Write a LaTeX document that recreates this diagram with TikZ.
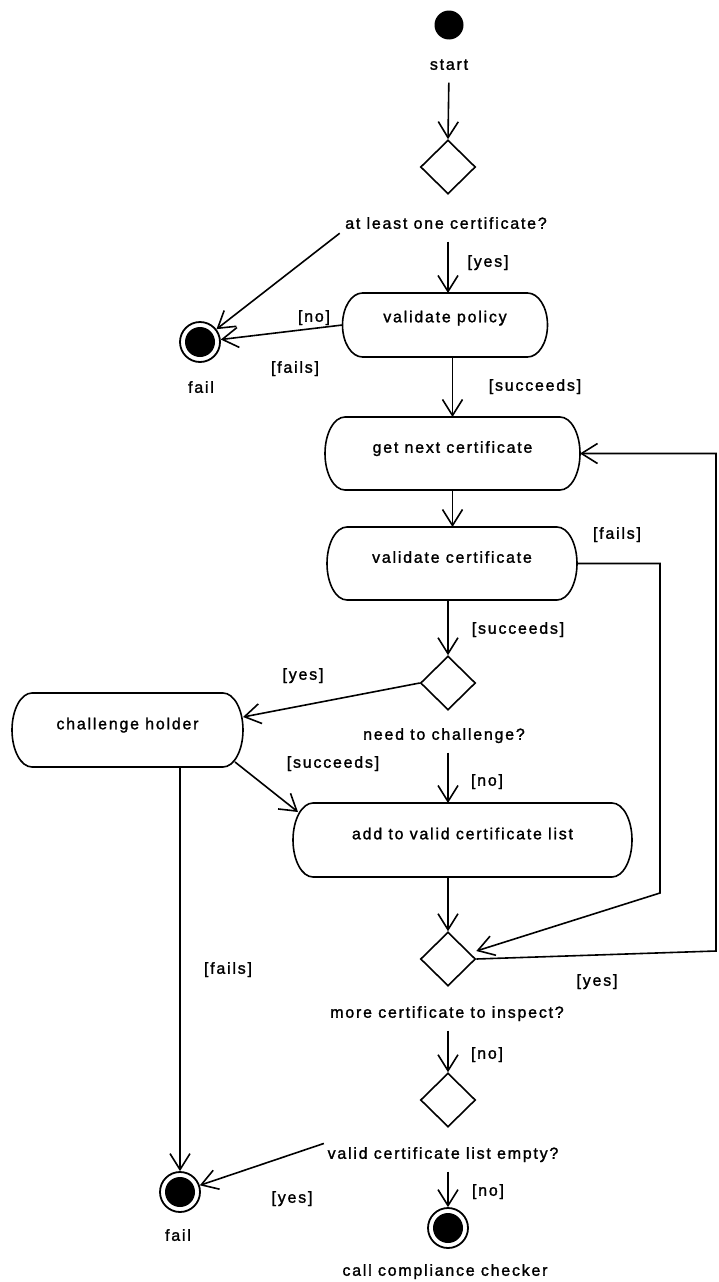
\documentclass[tikz,border=0pt]{standalone}
\usepackage{fontspec}
\setmainfont{Liberation Sans}[LetterSpace=11,FakeBold=1.5]
\usetikzlibrary{shapes.geometric,arrows.meta}

% activity outline: straight top and bottom, half-elliptic ends
\newcommand\pillshape[2]{%
  \draw ([xshift=20pt]#1.north west) -- ([xshift=-20pt]#1.north east)
    arc[start angle=90,end angle=-90,x radius=20pt,y radius=#2]
    -- ([xshift=20pt]#1.south west)
    arc[start angle=270,end angle=90,x radius=20pt,y radius=#2]
    -- cycle;}

\begin{document}
\begin{tikzpicture}[x=1pt,y=-1pt,
  line width=1.6pt,
  font=\fontsize{16}{19}\selectfont,
  flow/.style={-{Straight Barb[length=16pt,width=20pt,line width=1.6pt]}},
  activity/.style={rectangle, inner sep=0pt, outer sep=0pt, minimum height=73pt,
    text height=11.5pt, text depth=13pt},
  choice/.style={diamond, draw, minimum width=55pt, minimum height=54pt, inner sep=0pt},
  initial/.style={circle, fill=black, minimum size=29pt, inner sep=0pt},
  final/.style={circle, draw, line width=1.8pt, minimum size=40pt, inner sep=0pt,
    path picture={\fill (path picture bounding box.center) circle (15pt);}},
  txt/.style={inner sep=0pt, text height=11.5pt, text depth=0pt},
]
\useasboundingbox (0,0) rectangle (719,1282);

% states and decisions
\node[initial] (start) at (449,25) {};
\node[txt] (startlbl) at (449,64) {start};
\node[choice] (d1) at (448,167) {};
\node[txt] (d1lbl) at (446,223) {at least one certificate?};
\node[activity, minimum width=205pt, minimum height=64pt, text depth=17pt] (policy) at (445,325) {validate policy};
\node[final] (fail1) at (200,342) {};
\node[txt] (fail1lbl) at (201,387) {fail};
\node[activity, minimum width=255pt] (next) at (452.5,453.5) {get next certificate};
\node[activity, minimum width=250pt] (vcert) at (452,563.5) {validate certificate};
\node[choice] (d2) at (448,683) {};
\node[txt] (d2lbl) at (444,734) {need to challenge?};
\node[activity, minimum width=231pt, minimum height=74pt] (chal) at (127.5,730) {challenge holder};
\node[activity, minimum width=339pt, minimum height=74pt] (add) at (462.5,840) {add to valid certificate list};
\node[choice] (d3) at (448,959) {};
\node[txt] (d3lbl) at (447,1012) {more certificate to inspect?};
\node[choice] (d4) at (448,1100) {};
\node[txt] (d4lbl) at (443,1153) {valid certificate list empty?};
\node[final] (fail2) at (180,1192) {};
\node[txt] (fail2lbl) at (178,1235) {fail};
\node[final] (done) at (448,1228) {};
\node[txt] (donelbl) at (445,1270) {call compliance checker};

\pillshape{policy}{32pt}
\pillshape{next}{36.5pt}
\pillshape{vcert}{36.5pt}
\pillshape{chal}{37pt}
\pillshape{add}{37pt}

% guard conditions
\node[txt] (g1) at (488,261) {[yes]};
\node[txt] (g2) at (314,316) {[no]};
\node[txt] (g3) at (295,367) {[fails]};
\node[txt] (g4) at (535,385) {[succeeds]};
\node[txt] (g5) at (617,533) {[fails]};
\node[txt] (g6) at (518,628) {[succeeds]};
\node[txt] (g7) at (303,674) {[yes]};
\node[txt] (g8) at (333,762) {[succeeds]};
\node[txt] (g9) at (487,780) {[no]};
\node[txt] (g10) at (228,968) {[fails]};
\node[txt] (g11) at (597,980) {[yes]};
\node[txt] (g12) at (487,1053) {[no]};
\node[txt] (g13) at (292,1197) {[yes]};
\node[txt] (g14) at (488,1190) {[no]};

% bends of the routed connectors
\coordinate (failcorner) at (660,893);
\coordinate (loopcorner) at (716,951);

% transitions
\draw[flow, shorten <=12pt] (startlbl.south) -- (d1.north);
\draw[flow, shorten <=12pt] (d1lbl.south -| d1.south) -- (d1.south |- policy.north);
\draw[flow, shorten <=6pt] (d1lbl.south west) -- (fail1);
\draw[flow] (policy.west) -- (fail1);
\draw[flow] (policy.south -| next.north) -- (next.north);
\draw[flow] (next.south) -- (next.south |- vcert.north);
\draw[flow] (vcert.east) -- (vcert.east -| failcorner) -- (failcorner) -- ([yshift=8pt]d3.east);
\draw[flow] (vcert.south -| d2.north) -- (d2.north);
\draw[flow] (d2.west) -- ([yshift=13pt]chal.east);
\draw[flow, shorten <=12pt] (d2lbl.south -| d2.south) -- (d2.south |- add.north);
\draw[flow] ([shift={(-8,-5)}]chal.south east) -- ([shift={(5,9)}]add.north west);
\draw[flow] (chal.south -| fail2.north) -- (fail2.north);
\draw[flow] (add.south -| d3.north) -- (d3.north);
\draw[flow] (d3.east) -- (loopcorner) |- (next.east);
\draw[flow, shorten <=12pt] (d3lbl.south -| d4.north) -- (d4.north);
\draw[flow] ([shift={(-3,-3)}]d4lbl.north west) -- (fail2);
\draw[flow, shorten <=12pt] (d4lbl.south -| done.north) -- (done.north);
\end{tikzpicture}
\end{document}
